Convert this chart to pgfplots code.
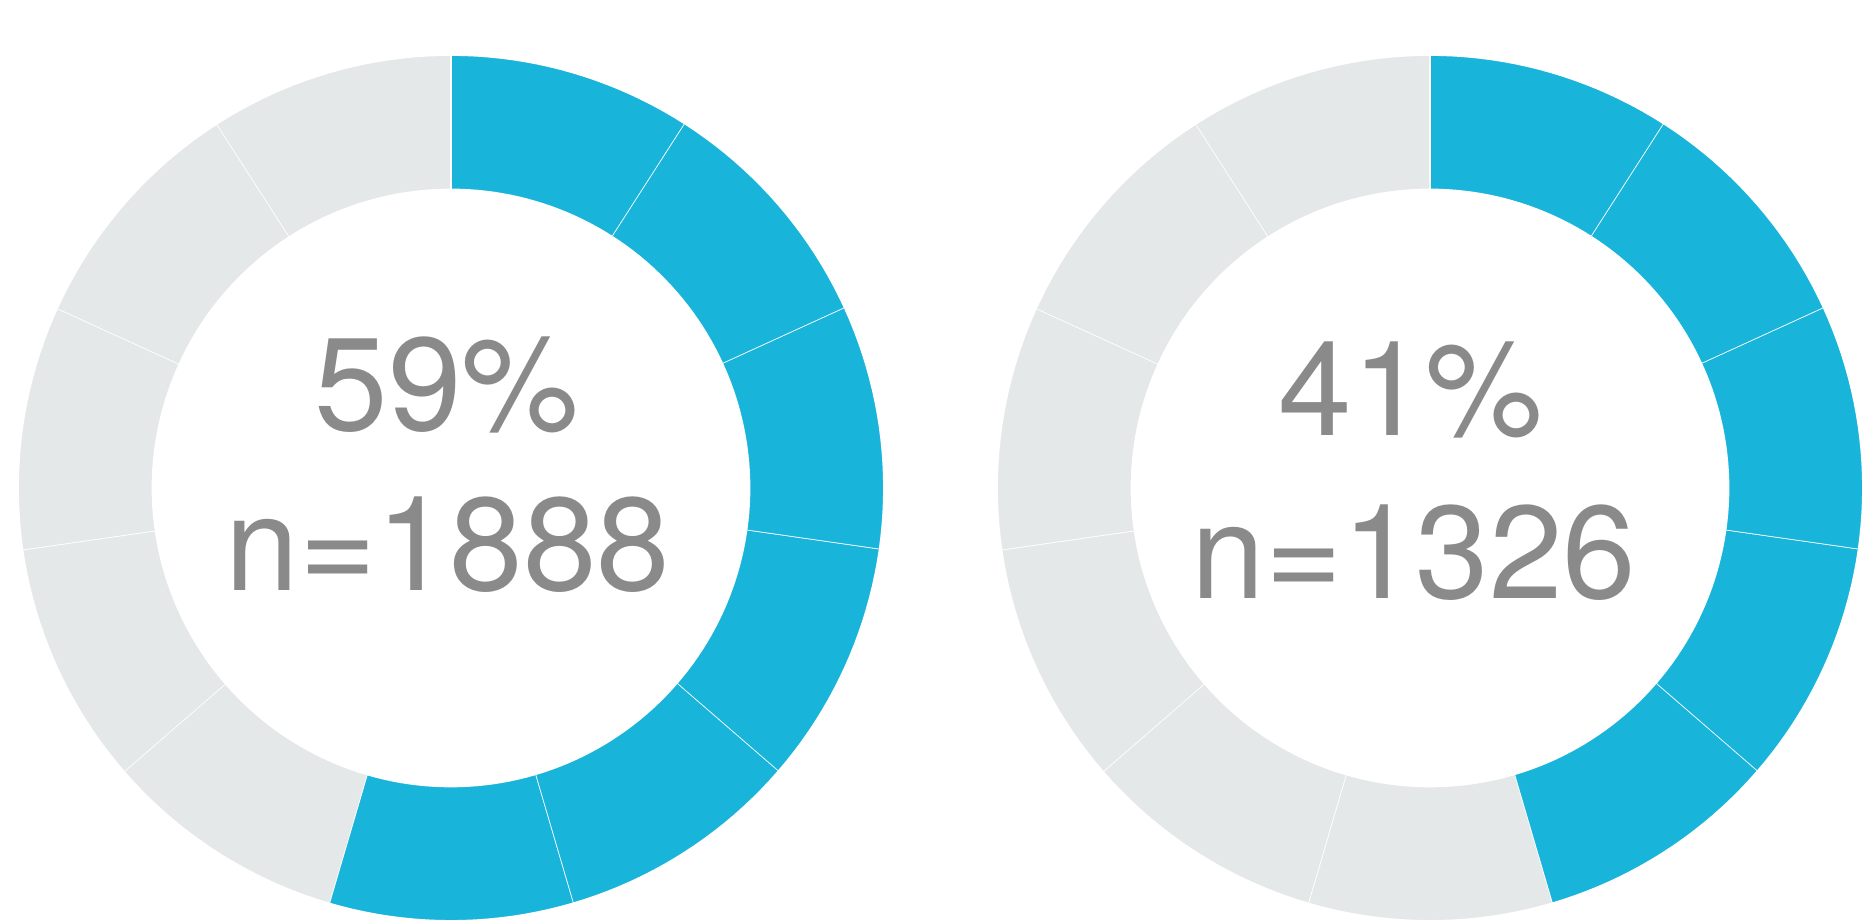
\documentclass[border=0pt]{standalone}
\usepackage{pgfplots}
\usepackage{pgfplotstable}
\pgfplotsset{compat=1.18}
\usepackage{fontspec}
\setmainfont{TeX Gyre Heros}
\definecolor{segblue}{HTML}{18B4DA}
\definecolor{seggray}{HTML}{E4E8E9}
\definecolor{txtgray}{HTML}{8A8A8A}

% 11 segments per donut, clockwise from the top; 1 = highlighted
\pgfplotstableread{
seg left right
0   1    1
1   1    1
2   1    1
3   1    1
4   1    1
5   1    0
6   0    0
7   0    0
8   0    0
9   0    0
10  0    0
}\segdata

% #1 centre x, #2 segment index, #3 colour
\newcommand{\seg}[3]{%
  \addplot[fill=#3, draw=white, line width=0.5pt, variable=\t,
    samples at={0,1,...,20,40,41,...,60}]
  ({#1 + ((\t<30) ? 433 : 298.5)*cos(90 - (#2 + ((\t<30) ? \t/20 : (60-\t)/20))*360/11)},
   {433 + ((\t<30) ? 433 : 298.5)*sin(90 - (#2 + ((\t<30) ? \t/20 : (60-\t)/20))*360/11)});
}

\begin{document}
\begin{tikzpicture}
\begin{axis}[name=main, x=0.1mm, y=0.1mm, xmin=0, xmax=1865, ymin=0, ymax=921,
  hide axis, clip=true]
\pgfplotsinvokeforeach{0,...,10}{%
  \pgfplotstablegetelem{#1}{left}\of\segdata
  \ifnum\pgfplotsretval=1 \def\segcol{segblue}\else\def\segcol{seggray}\fi
  \edef\tmp{\noexpand\seg{451}{#1}{\segcol}}\tmp
  \pgfplotstablegetelem{#1}{right}\of\segdata
  \ifnum\pgfplotsretval=1 \def\segcol{segblue}\else\def\segcol{seggray}\fi
  \edef\tmp{\noexpand\seg{1430}{#1}{\segcol}}\tmp
}
\node[anchor=base, text=txtgray, font=\fontsize{37.6}{40}\selectfont] at (axis cs:447,490) {59\%};
\node[anchor=base, text=txtgray, font=\fontsize{37.6}{40}\selectfont] at (axis cs:448,330) {n=1888};
\node[anchor=base, text=txtgray, font=\fontsize{37.6}{40}\selectfont] at (axis cs:1411,485) {41\%};
\node[anchor=base, text=txtgray, font=\fontsize{37.6}{40}\selectfont] at (axis cs:1414,322) {n=1326};
\end{axis}
\path (main.south west) rectangle (main.north east);
\end{tikzpicture}
\end{document}
